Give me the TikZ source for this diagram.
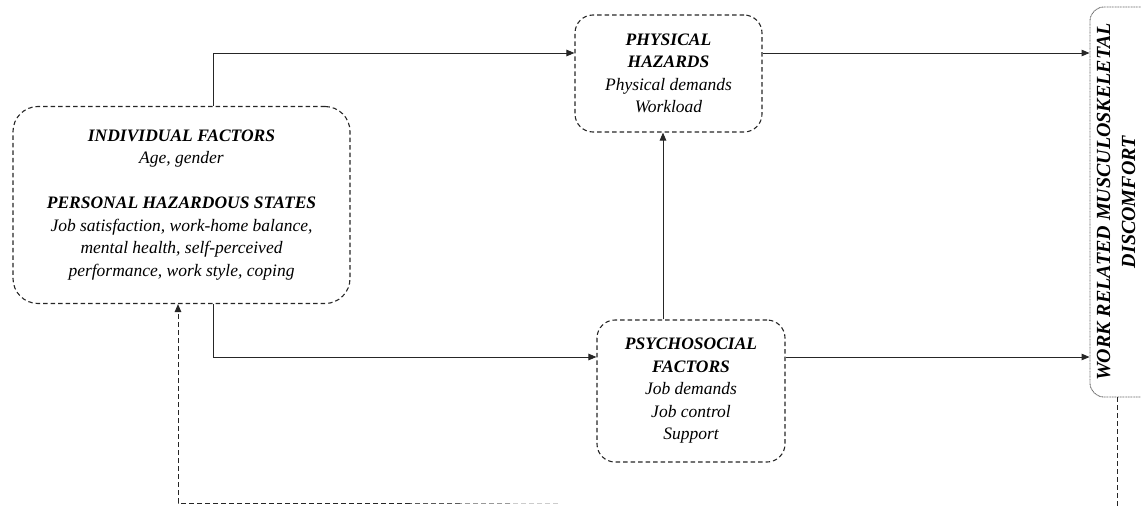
\documentclass[tikz,border=0pt]{standalone}
\usepackage{fontspec}
\setmainfont{Liberation Serif}
\usetikzlibrary{arrows.meta}
\tikzset{
  box/.style={draw=black!85, line width=1.1pt, dash pattern=on 4.5pt off 3pt, rounded corners=18pt, align=center, inner sep=0pt, font=\fontsize{17.5}{22.5}\selectfont\itshape},
  wbox/.style={draw=black!60, line width=0.9pt, dash pattern=on 1pt off 0.6pt, rounded corners=14pt, inner sep=0pt},
  conn/.style={draw=black!85, line width=1pt, -{Triangle[length=8pt,width=6.5pt]}},
  fb/.style={draw=black!85, line width=1pt, dash pattern=on 5pt off 3pt},
}
\begin{document}
\begin{tikzpicture}[x=1pt,y=-1pt]
\useasboundingbox (0,0) rectangle (1141,506);
\clip (0,0) rectangle (1141,506);
\node[box, rounded corners=25pt, minimum width=337pt, minimum height=197pt] (ind) at (181.5,205)
 {\textbf{INDIVIDUAL FACTORS}\\Age, gender\\[22.5pt]\textbf{PERSONAL HAZARDOUS STATES}\\Job satisfaction, work-home balance,\\mental health, self-perceived\\performance, work style, coping};
\node[box, minimum width=187pt, minimum height=117pt] (phys) at (668.5,73.5)
 {\textbf{PHYSICAL}\\\textbf{HAZARDS}\\Physical demands\\Workload};
\node[box, minimum width=188pt, minimum height=142pt] (psy) at (691,391)
 {\textbf{PSYCHOSOCIAL}\\\textbf{FACTORS}\\Job demands\\Job control\\Support};
\node[wbox, minimum width=80pt, minimum height=390pt] (wbx) at (1130,202) {};
\node[rotate=90, align=center, font=\fontsize{20}{25}\selectfont\bfseries\itshape] (wrmd) at (1116,202)
 {WORK RELATED MUSCULOSKELETAL\\DISCOMFORT};
% connectors
\draw[conn] ([xshift=31.5pt]ind.north) |- ([yshift=20.5pt]phys.west);
\draw[conn] ([xshift=31.5pt]ind.south) |- ([yshift=34pt]psy.west);
\draw[conn] ([xshift=-28pt]psy.north) -- ([xshift=-28pt]psy.north |- phys.south);
\draw[conn] ([yshift=20.5pt]phys.east) -- ([yshift=20.5pt]phys.east -| wbx.west);
\draw[conn] ([yshift=34pt]psy.east) -- ([yshift=34pt]psy.east -| wbx.west);
% feedback
\coordinate (fbr) at ([xshift=-13pt]wbx.south);
\coordinate (fbe) at (1117,512);
\draw[fb] (fbr) -- (fbe);
\coordinate (fb1) at (558,503);
\coordinate (fb2) at (510,503);
\coordinate (fb3) at (460,503);
\coordinate (fb4) at (410,503);
\draw[fb, draw=black!20] (fb1) -- (fb2);
\draw[fb, draw=black!40] (fb2) -- (fb3);
\draw[fb, draw=black!65] (fb3) -- (fb4);
\draw[fb, -{Triangle[length=8pt,width=6.5pt]}] (fb4) -| ([xshift=-3.5pt]ind.south);
\end{tikzpicture}
\end{document}
